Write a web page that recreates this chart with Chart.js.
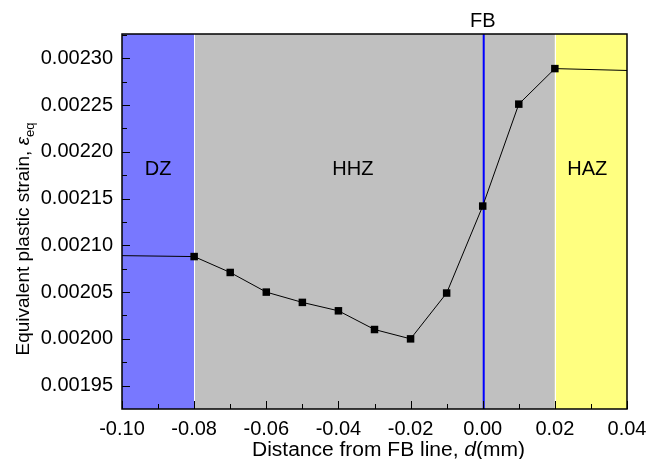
<!DOCTYPE html>
<html>
<head>
<meta charset="utf-8">
<script src="https://cdn.jsdelivr.net/npm/chart.js@4"></script>
<style>
  html, body { margin: 0; padding: 0; background: #fff; }
  #wrap { width: 648px; height: 459px; }
</style>
</head>
<body>
<div id="wrap"><canvas id="strainChart"></canvas></div>
<script>
// ------------------ DONNEES ------------------
const distances = [-0.10, -0.08, -0.07, -0.06, -0.05, -0.04, -0.03, -0.02, -0.01, 0.00, 0.01, 0.02, 0.04];
const strains   = [0.002089, 0.002088, 0.002071, 0.002050, 0.002039, 0.002030, 0.002010, 0.002000, 0.002049, 0.002142, 0.002251, 0.002289, 0.002287];
const hasMarker = [false, true, true, true, true, true, true, true, true, true, true, true, false];

const xTicks = [-0.10, -0.08, -0.06, -0.04, -0.02, 0.00, 0.02, 0.04];
const yTicks = [0.00195, 0.00200, 0.00205, 0.00210, 0.00215, 0.00220, 0.00225, 0.00230];

// zones : bornes et noms
const zoneBounds = [-0.10, -0.08, 0.02, 0.04];
const zoneNames  = ['DZ', 'HHZ', 'HAZ'];
const zoneLabelX = [-0.09, -0.036, 0.029];
const zoneLabelY = 0.002181;
const fbPosition = 0.00;

// ------------------ STYLE ------------------
const FONT = "'Liberation Sans', Arial, sans-serif";
const zoneColors = ['#7878ff', '#c0c0c0', '#ffff80'];

// Plugin : zones, ligne FB, cadre, graduations internes et titres
const decorPlugin = {
    id: 'decor',
    beforeDatasetsDraw(chart) {
        const { ctx, chartArea: a, scales: { x, y } } = chart;
        ctx.save();
        for (let i = 0; i < zoneNames.length; i++) {
            const x0 = x.getPixelForValue(zoneBounds[i]);
            const x1 = x.getPixelForValue(zoneBounds[i + 1]);
            ctx.fillStyle = zoneColors[i];
            ctx.fillRect(x0, a.top, x1 - x0, a.bottom - a.top);
        }
        // séparations blanches
        ctx.strokeStyle = '#ffffff';
        ctx.lineWidth = 1;
        [zoneBounds[1], zoneBounds[2]].forEach(v => {
            const px = Math.round(x.getPixelForValue(v)) + 0.5;
            ctx.beginPath();
            ctx.moveTo(px, a.top);
            ctx.lineTo(px, a.bottom);
            ctx.stroke();
        });
        // ligne FB
        const fx = x.getPixelForValue(fbPosition) + 1;
        ctx.strokeStyle = '#0000ff';
        ctx.lineWidth = 2;
        ctx.beginPath();
        ctx.moveTo(fx, a.top);
        ctx.lineTo(fx, a.bottom);
        ctx.stroke();

        // noms des zones
        ctx.fillStyle = '#000';
        ctx.font = `20px ${FONT}`;
        ctx.textAlign = 'center';
        ctx.textBaseline = 'middle';
        zoneNames.forEach((n, i) => {
            ctx.fillText(n, x.getPixelForValue(zoneLabelX[i]), y.getPixelForValue(zoneLabelY));
        });
        ctx.restore();
    },
    afterDraw(chart) {
        const { ctx, chartArea: a, scales: { x, y } } = chart;
        ctx.save();
        ctx.strokeStyle = '#000';
        ctx.lineWidth = 1.5;
        ctx.strokeRect(a.left, a.top, a.right - a.left, a.bottom - a.top);

        // graduations (vers l'intérieur)
        ctx.lineWidth = 1;
        ctx.beginPath();
        xTicks.forEach((v, i) => {
            const px = Math.round(x.getPixelForValue(v)) + 0.5;
            ctx.moveTo(px, a.bottom);
            ctx.lineTo(px, a.bottom - 8);
            if (i < xTicks.length - 1) {
                const pm = Math.round(x.getPixelForValue((v + xTicks[i + 1]) / 2)) + 0.5;
                ctx.moveTo(pm, a.bottom);
                ctx.lineTo(pm, a.bottom - 5);
            }
        });
        yTicks.forEach((v, i) => {
            const py = Math.round(y.getPixelForValue(v)) + 0.5;
            ctx.moveTo(a.left, py);
            ctx.lineTo(a.left + 8, py);
            const pm = Math.round(y.getPixelForValue(v + 0.000025)) + 0.5;
            if (pm > a.top) {
                ctx.moveTo(a.left, pm);
                ctx.lineTo(a.left + 5, pm);
            }
        });
        ctx.stroke();

        // label FB
        ctx.fillStyle = '#000';
        ctx.font = `20px ${FONT}`;
        ctx.textAlign = 'center';
        ctx.textBaseline = 'middle';
        ctx.fillText('FB', x.getPixelForValue(fbPosition), 21);

        // titre axe X : "Distance from FB line, d(mm)" avec d en italique
        const partsX = [
            { t: 'Distance from FB line, ', f: `20px ${FONT}` },
            { t: 'd', f: `italic 20px ${FONT}` },
            { t: '(mm)', f: `20px ${FONT}` }
        ];
        const stretch = 1.05;
        let w = 0;
        partsX.forEach(p => { ctx.font = p.f; w += ctx.measureText(p.t).width; });
        ctx.save();
        ctx.translate((a.left + a.right) / 2 + 14 - w * stretch / 2, 456);
        ctx.scale(stretch, 1);
        let cx = 0;
        ctx.textAlign = 'left';
        ctx.textBaseline = 'alphabetic';
        partsX.forEach(p => {
            ctx.font = p.f;
            ctx.fillText(p.t, cx, 0);
            cx += ctx.measureText(p.t).width;
        });
        ctx.restore();

        // titre axe Y : "Equivalent plastic strain, ε_eq"
        ctx.textAlign = 'left';
        ctx.textBaseline = 'alphabetic';
        ctx.translate(29, 239);
        ctx.rotate(-Math.PI / 2);
        const main = 'Equivalent plastic strain, ';
        ctx.font = `19px ${FONT}`;
        const w1 = ctx.measureText(main).width;
        ctx.font = `italic 19px ${FONT}`;
        const w2 = ctx.measureText('\u03B5').width;
        ctx.font = `13px ${FONT}`;
        const w3 = ctx.measureText('eq').width;
        let sx = -(w1 + w2 + w3) / 2;
        ctx.font = `19px ${FONT}`;
        ctx.fillText(main, sx, 0);
        sx += w1;
        ctx.font = `italic 19px ${FONT}`;
        ctx.fillText('\u03B5', sx, 0);
        sx += w2;
        ctx.font = `13px ${FONT}`;
        ctx.fillText('eq', sx, 5);
        ctx.restore();
    }
};

// ------------------ GRAPHIQUE ------------------
const ctx = document.getElementById('strainChart').getContext('2d');
new Chart(ctx, {
    type: 'line',
    data: {
        datasets: [{
            data: distances.map((d, i) => ({ x: d, y: strains[i] })),
            borderColor: '#000',
            borderWidth: 1,
            tension: 0,
            pointStyle: 'rect',
            pointRadius: hasMarker.map(m => m ? 5.3 : 0),
            pointBackgroundColor: '#000',
            pointBorderColor: '#000',
            pointBorderWidth: 0
        }]
    },
    options: {
        responsive: true,
        maintainAspectRatio: false,
        animation: false,
        layout: { padding: { left: 0, right: 21, top: 34, bottom: 0 } },
        plugins: {
            legend: { display: false },
            tooltip: { enabled: false }
        },
        scales: {
            x: {
                type: 'linear',
                min: -0.10,
                max: 0.04,
                grid: { display: false, drawTicks: false },
                border: { display: false },
                afterBuildTicks: s => { s.ticks = xTicks.map(v => ({ value: v })); },
                afterFit: s => {
                    s.height = 50;
                    s.paddingLeft = 0;
                    s.paddingRight = 0;
                },
                ticks: {
                    padding: 8,
                    color: '#000',
                    font: { family: FONT, size: 20 },
                    maxRotation: 0,
                    callback: v => v.toFixed(2)
                }
            },
            y: {
                min: 0.001925,
                max: 0.002326,
                grid: { display: false, drawTicks: false },
                border: { display: false },
                afterBuildTicks: s => { s.ticks = yTicks.map(v => ({ value: v })); },
                afterFit: s => {
                    s.width = 122;
                    s.paddingTop = 0;
                    s.paddingBottom = 0;
                },
                ticks: {
                    padding: 9,
                    color: '#000',
                    font: { family: FONT, size: 20 },
                    callback: v => v.toFixed(5)
                }
            }
        }
    },
    plugins: [decorPlugin]
});
</script>
</body>
</html>
